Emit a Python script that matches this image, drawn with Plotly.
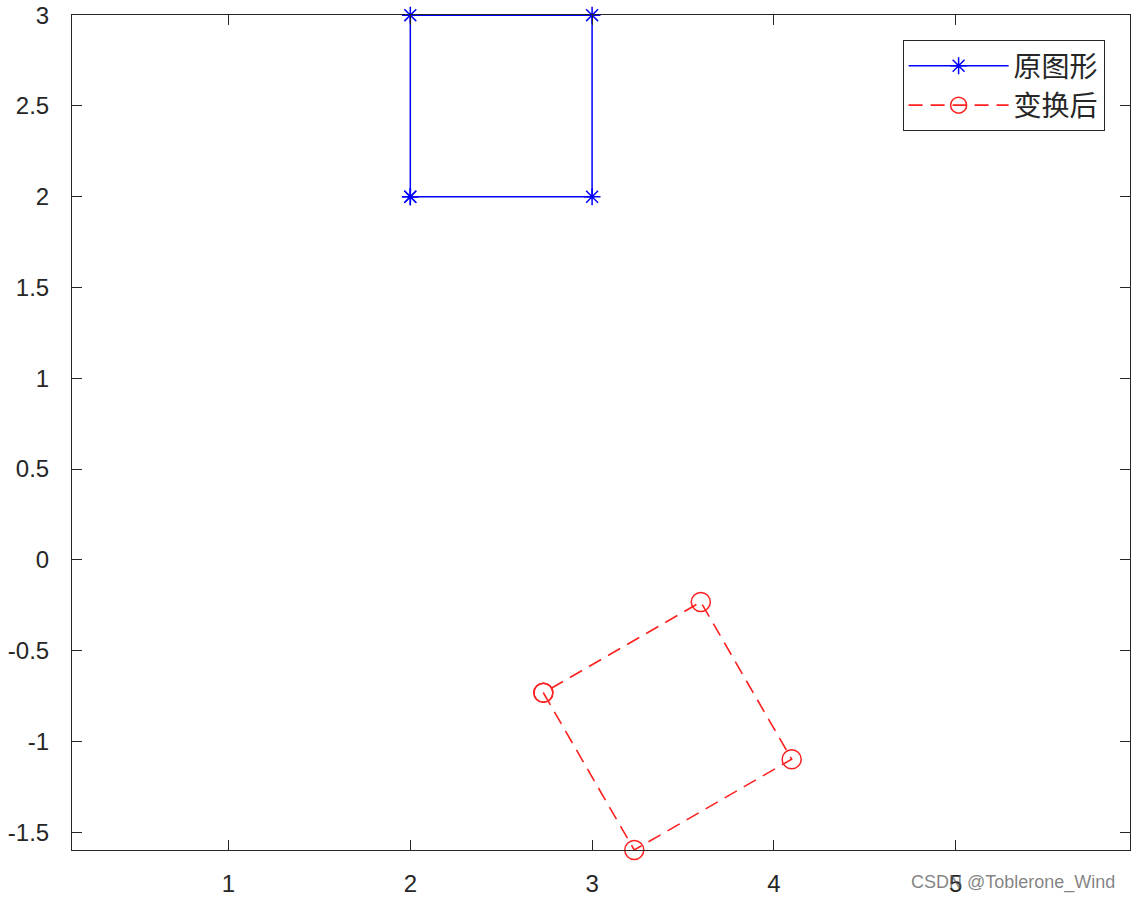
import plotly.graph_objects as go

# Original square (closed polygon)
orig_x = [2, 3, 3, 2, 2]
orig_y = [2, 2, 3, 3, 2]
# Transformed square (closed polygon)
trans_x = [2.732, 3.232, 4.098, 3.598, 2.732]
trans_y = [-0.732, -1.598, -1.098, -0.232, -0.732]

x_ticks = [1, 2, 3, 4, 5]
y_ticks = [-1.5, -1, -0.5, 0, 0.5, 1, 1.5, 2, 2.5, 3]
y_tick_text = ["-1.5", "-1", "-0.5", "0", "0.5", "1", "1.5", "2", "2.5", "3"]

fig = go.Figure()
fig.add_trace(go.Scatter(
    x=orig_x, y=orig_y, mode="lines+markers", name="原图形",
    line=dict(color="#0000ff", width=1.5),
    marker=dict(symbol="asterisk-open", size=14, line=dict(color="#0000ff", width=1.5)),
    cliponaxis=False,
))
fig.add_trace(go.Scatter(
    x=trans_x, y=trans_y, mode="lines+markers", name="变换后",
    line=dict(color="#ff2020", width=1.6, dash="14px,8px"),
    marker=dict(symbol="circle-open", size=19, line=dict(color="#ff2020", width=1.5)),
    cliponaxis=False,
))

axis_common = dict(
    showgrid=False, zeroline=False, showline=True, linecolor="#262626", linewidth=1,
    mirror="ticks", ticks="inside", ticklen=10, tickcolor="#262626", tickwidth=1,
    tickfont=dict(family="Liberation Sans, Arial, sans-serif", size=24, color="#262626"),
    automargin=False, ticklabeloverflow="allow",
)
fig.update_xaxes(range=[0.139, 5.959], tickvals=x_ticks, ticktext=[str(v) for v in x_ticks],
                 ticklabelstandoff=12, **axis_common)
fig.update_yaxes(range=[-1.598, 3.001], tickvals=y_ticks, ticktext=y_tick_text,
                 ticklabelstandoff=17, **axis_common)

fig.update_layout(
    width=1134, height=901,
    margin=dict(l=72, r=4, t=15, b=51),
    paper_bgcolor="white", plot_bgcolor="white",
    showlegend=True,
    legend=dict(
        x=0.976, y=0.97, xanchor="right", yanchor="top",
        bgcolor="white", bordercolor="#262626", borderwidth=1,
        font=dict(family="Noto Sans CJK SC, sans-serif", size=28, color="#262626"),
        itemwidth=100, tracegroupgap=0,
    ),
    annotations=[dict(
        text="CSDN @Toblerone_Wind", xref="paper", yref="paper",
        x=0.988, y=0, yshift=-32, xanchor="right", yanchor="middle", showarrow=False,
        font=dict(family="Liberation Sans, Arial, sans-serif", size=18, color="rgba(90,90,90,0.75)"),
    )],
)

# Remove the default page margin so the figure fills the 1134x901 window exactly.
fig.write_html("out.html", config={"displayModeBar": False},
               post_script="document.body.style.margin='0px';")
